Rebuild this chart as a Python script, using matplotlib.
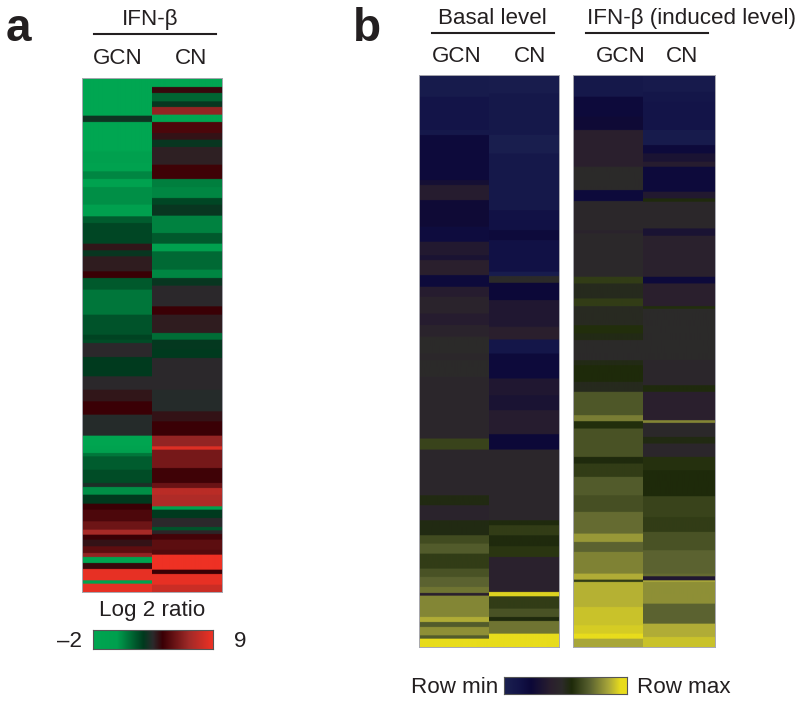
import numpy as np
import matplotlib
matplotlib.use("Agg")
import matplotlib.pyplot as plt
from matplotlib.colors import LinearSegmentedColormap

plt.rcParams['font.family'] = ['Liberation Sans', 'DejaVu Sans']

W, H = 800, 702
INK = '#231f20'

# heatmap rows, each list is (number of rows, value) going down the column

# panel a, log2 ratio
a_gcn = [(116, -2), (19, 2.9), (88, -2), (35, 0), (25, -0.8), (23, 0.8), (24, -0.8), (53, 0.6),
         (35, 0), (20, 1.8), (62, 2.3), (20, 3.9), (18, 2.8), (45, 3.8), (20, 4.4), (35, 1.9),
         (75, 1.2), (60, 2.0), (15, 2.4),
         (10, 2.2), (42, 3.5), (58, 2.6), (40, 3.5), (35, 3.9), (40, 4.4), (63, 3.4), (30, -1.8),
         (12, -1), (10, 0), (10, 1.2), (40, 1.8), (40, 2.2), (12, 3.2), (23, 0.6), (27, 2.6),
         (18, 4.4), (35, 4.8), (25, 5.6), (15, 7), (15, 4.4), (20, 4.0), (20, 5.2), (12, 6.5),
         (18, -1.5), (18, 4.2), (34, 8.8), (10, -0.5), (25, 8.8)]
a_cn = [(30, -2), (18, 4.2), (25, 1.6), (17, 2.8), (23, 6.5), (22, -2), (33, 4.8), (20, 4.0),
        (22, 2.8), (53, 3.7), (43, 4.5), (24, 1.0), (33, 0.8), (20, 2.3), (33, 2.8), (52, 0.9),
        (32, 1.9), (23, 0), (15, 1.5), (40, 1.5), (25, 0.8), (23, 2.8), (62, 3.5), (25, 4.4),
        (55, 3.8), (20, 1.4),
        (30, 2.7), (25, 2.6), (95, 3.5), (65, 3.4), (30, 4.0), (43, 4.4), (32, 6.5), (10, 8.5),
        (55, 5.8), (45, 4.5), (15, 5.5), (20, 7.5), (35, 7.2), (10, -0.5), (25, 2.6), (27, 3.5),
        (10, 2), (11, 3.6), (17, 4.6), (30, 5.2), (15, 5), (45, 9), (13, 4.4), (32, 8.8), (22, 8.0)]

# panel b, relative level between row min (0) and row max (1)
basal_gcn = [(65, .05), (100, .12), (15, .08), (135, .2), (15, .27), (45, .36), (80, .24), (45, .18),
             (40, .34), (15, .3), (45, .38), (35, .2), (30, .36), (50, .42), (35, .36), (35, .42),
             (50, .47), (20, .45),
             (50, .47), (185, .44), (33, .62), (137, .44), (30, .53), (45, .42), (45, .53), (25, .64),
             (30, .68), (45, .6), (25, .66), (30, .7), (18, .74), (8, .38), (64, .78), (15, .86),
             (15, .68), (25, .8), (10, .68), (25, .95)]
basal_cn = [(55, .04), (125, .08), (55, .02), (80, .08), (90, .08), (60, .14), (30, .2), (95, .14),
            (13, .04), (20, .47), (52, .22), (80, .33), (38, .38), (42, .1), (20, .2),
            (55, .2), (50, .33), (45, .3), (72, .36), (46, .22), (212, .44), (15, .54), (30, .6),
            (33, .54), (32, .58), (105, .4), (13, .93), (37, .6), (25, .66), (12, .54), (38, .74),
            (40, .95)]
ifn_gcn = [(65, .08), (60, .2), (40, .24), (110, .38), (70, .47), (33, .2), (87, .45), (10, .42),
           (130, .46), (20, .6), (45, .5), (23, .6), (57, .49), (25, .56), (20, .52), (60, .47),
           (15, .52), (50, .55), (30, .5), (70, .67), (18, .76), (22, .56), (85, .66), (20, .54),
           (40, .6), (55, .68), (50, .65), (65, .72), (25, .82), (30, .7), (65, .77), (18, .86),
           (7, .6), (75, .87), (55, .9), (25, .92), (15, .95), (25, .85)]
ifn_cn = [(50, .06), (30, .1), (85, .12), (45, .05), (25, .2), (25, .3), (15, .36), (75, .2),
          (20, .34), (10, .54), (80, .45), (22, .3), (123, .4), (20, .2), (68, .38), (8, .56),
          (154, .47),
          (75, .44), (20, .54), (85, .38), (8, .78), (42, .46), (20, .53), (40, .44), (40, .57),
          (40, .55), (38, .55), (62, .62), (45, .6), (55, .66), (70, .7), (8, .72), (12, .33),
          (5, .85), (65, .8), (60, .7), (40, .86), (30, .9)]

green_red = LinearSegmentedColormap.from_list('green_red', [
    (0, '#00a651'), (0.2, '#00a04e'), (0.42, '#003a1e'), (0.5, '#2b2a2c'),
    (0.58, '#3a0005'), (0.8, '#a02a28'), (1, '#ee3124')])
blue_yellow = LinearSegmentedColormap.from_list('blue_yellow', [
    (0, '#1b2150'), (0.12, '#131448'), (0.22, '#0c0838'), (0.38, '#2a1f2e'), (0.47, '#2c2a2a'),
    (0.55, '#1e2a0a'), (0.7, '#5a6230'), (0.85, '#a8a63a'), (0.95, '#e8dc1c'), (1, '#e8dc1c')])


def box(x0, y0, x1, y1):
    # axes from pixel corners, y counted from the top
    ax = fig.add_axes([x0/W, 1 - y1/H, (x1 - x0)/W, (y1 - y0)/H])
    ax.set_xticks([])
    ax.set_yticks([])
    return ax


def column(x0, y0, x1, y1, runs, cmap, vmin, vmax):
    ax = box(x0, y0, x1, y1)
    counts = [r[0] for r in runs]
    vals = [r[1] for r in runs]
    rows = np.repeat(vals, counts).reshape(-1, 1)
    ax.imshow(rows, cmap=cmap, vmin=vmin, vmax=vmax, aspect='auto', interpolation='hanning')
    for s in ax.spines.values():
        s.set_visible(False)
    return ax


def frame(x0, y0, x1, y1):
    # faint edge round a whole heatmap
    ax = box(x0, y0, x1, y1)
    ax.patch.set_alpha(0)
    for s in ax.spines.values():
        s.set_color('#a8a8b0')
        s.set_linewidth(0.7)


def colorbar(x0, y0, x1, y1, cmap):
    ax = box(x0, y0, x1, y1)
    ax.imshow(np.linspace(0, 1, 256).reshape(1, -1), cmap=cmap, aspect='auto')
    for s in ax.spines.values():
        s.set_color('#555555')
        s.set_linewidth(0.8)


def label(x, y, s, ha='center', size=16.1, **kw):
    fig.text(x/W, 1 - y/H, s, ha=ha, va='baseline', fontsize=size, color=INK, **kw)


def rule(x0, x1, y):
    fig.add_artist(plt.Line2D([x0/W, x1/W], [1 - y/H, 1 - y/H], color=INK, lw=1.5))


fig = plt.figure(figsize=(W/100, H/100), dpi=100)

# panel a
column(82, 77.5, 151.6, 592, a_gcn, green_red, -2, 9)
column(151.6, 77.5, 222, 592, a_cn, green_red, -2, 9)
frame(82, 77.5, 222, 592)
colorbar(93, 630, 213, 649, green_red)

label(6, 41, 'a', ha='left', size=33, fontweight='bold')
label(150, 25, 'IFN-β')
rule(94, 216, 34)
label(118, 64, 'GCN')
label(191, 64, 'CN')
label(152, 616, 'Log 2 ratio')
label(82, 647, '–2', ha='right')
label(240, 647, '9')

# panel b
column(419.3, 75, 488.7, 646.7, basal_gcn, blue_yellow, 0, 1)
column(488.7, 75, 558.7, 646.7, basal_cn, blue_yellow, 0, 1)
frame(419.3, 75, 558.7, 646.7)
column(573, 75, 643, 646.7, ifn_gcn, blue_yellow, 0, 1)
column(643, 75, 714.7, 646.7, ifn_cn, blue_yellow, 0, 1)
frame(573, 75, 714.7, 646.7)
colorbar(504, 677, 627, 694, blue_yellow)

label(353, 41, 'b', ha='left', size=33, fontweight='bold')
label(492, 24, 'Basal level')
rule(432, 554, 32.5)
label(457, 62, 'GCN')
label(530, 62, 'CN')
label(587, 24, 'IFN-β (induced level)', ha='left')
rule(586, 708, 32.5)
label(621, 62, 'GCN')
label(682, 62, 'CN')
label(411, 693, 'Row min', ha='left')
label(637, 693, 'Row max', ha='left')

fig.savefig('out.png', dpi=100, facecolor='white')
